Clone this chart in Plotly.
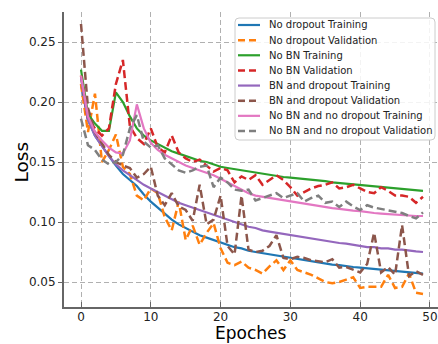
import plotly.graph_objects as go

epochs = list(range(50))

no_dropout_train = [0.215, 0.185, 0.172, 0.163, 0.155, 0.147, 0.140, 0.135, 0.130, 0.123,
                    0.117, 0.112, 0.107, 0.102, 0.098, 0.095, 0.092, 0.089, 0.087, 0.085,
                    0.083, 0.081, 0.079, 0.078, 0.076, 0.075, 0.074, 0.073, 0.072, 0.071,
                    0.070, 0.069, 0.068, 0.067, 0.066, 0.065, 0.0645, 0.064, 0.063, 0.0625,
                    0.062, 0.0615, 0.061, 0.060, 0.0595, 0.059, 0.0585, 0.058, 0.0575, 0.057]

no_dropout_val = [0.215, 0.175, 0.207, 0.150, 0.160, 0.173, 0.146, 0.140, 0.122, 0.118,
                  0.128, 0.124, 0.104, 0.093, 0.117, 0.085, 0.097, 0.081, 0.091, 0.099,
                  0.078, 0.066, 0.064, 0.067, 0.062, 0.060, 0.057, 0.063, 0.068, 0.060,
                  0.068, 0.060, 0.058, 0.056, 0.053, 0.050, 0.049, 0.050, 0.052, 0.054,
                  0.045, 0.046, 0.046, 0.046, 0.056, 0.045, 0.046, 0.057, 0.041, 0.040]

no_bn_train = [0.227, 0.190, 0.182, 0.176, 0.176, 0.208, 0.200, 0.188, 0.178, 0.172,
               0.168, 0.165, 0.162, 0.159, 0.157, 0.155, 0.153, 0.151, 0.150, 0.148,
               0.146, 0.145, 0.144, 0.143, 0.142, 0.141, 0.140, 0.139, 0.138, 0.1375,
               0.137, 0.1365, 0.136, 0.135, 0.1345, 0.134, 0.133, 0.1325, 0.132, 0.1315,
               0.131, 0.1305, 0.130, 0.1295, 0.129, 0.128, 0.1275, 0.127, 0.1265, 0.126]

no_bn_val = [0.222, 0.185, 0.178, 0.172, 0.178, 0.215, 0.235, 0.180, 0.170, 0.165,
             0.178, 0.162, 0.158, 0.172, 0.158, 0.153, 0.150, 0.152, 0.147, 0.142,
             0.145, 0.143, 0.133, 0.138, 0.135, 0.139, 0.131, 0.135, 0.139, 0.135,
             0.129, 0.122, 0.125, 0.128, 0.130, 0.131, 0.133, 0.128, 0.129, 0.131,
             0.128, 0.125, 0.124, 0.129, 0.126, 0.122, 0.122, 0.121, 0.116, 0.121]

bn_dropout_train = [0.220, 0.185, 0.172, 0.163, 0.155, 0.148, 0.143, 0.139, 0.135, 0.131,
                    0.128, 0.125, 0.122, 0.119, 0.116, 0.114, 0.112, 0.110, 0.108, 0.106,
                    0.104, 0.102, 0.100, 0.098, 0.096, 0.095, 0.093, 0.092, 0.091, 0.090,
                    0.089, 0.088, 0.087, 0.086, 0.085, 0.084, 0.083, 0.0825, 0.082, 0.081,
                    0.080, 0.079, 0.079, 0.078, 0.078, 0.077, 0.077, 0.076, 0.0755, 0.075]

bn_dropout_val = [0.265, 0.195, 0.175, 0.165, 0.156, 0.150, 0.147, 0.145, 0.137, 0.140,
                  0.146, 0.122, 0.114, 0.124, 0.113, 0.110, 0.101, 0.131, 0.098, 0.102,
                  0.122, 0.080, 0.073, 0.122, 0.077, 0.075, 0.076, 0.080, 0.089, 0.070,
                  0.069, 0.071, 0.070, 0.068, 0.067, 0.0665, 0.069, 0.062, 0.0625, 0.060,
                  0.058, 0.065, 0.091, 0.058, 0.0625, 0.056, 0.0975, 0.055, 0.059, 0.056]

no_bn_no_dropout_train = [0.222, 0.188, 0.175, 0.168, 0.162, 0.158, 0.157, 0.168, 0.198, 0.178,
                          0.166, 0.160, 0.156, 0.153, 0.150, 0.147, 0.145, 0.143, 0.141, 0.139,
                          0.136, 0.133, 0.130, 0.127, 0.124, 0.122, 0.121, 0.120, 0.119, 0.118,
                          0.117, 0.116, 0.115, 0.114, 0.113, 0.112, 0.1115, 0.111, 0.110, 0.1095,
                          0.109, 0.108, 0.1075, 0.107, 0.1065, 0.106, 0.106, 0.1055, 0.105, 0.105]

no_bn_no_dropout_val = [0.186, 0.164, 0.160, 0.152, 0.148, 0.150, 0.156, 0.178, 0.189, 0.167,
                        0.162, 0.164, 0.153, 0.148, 0.143, 0.141, 0.143, 0.146, 0.147, 0.129,
                        0.137, 0.133, 0.127, 0.126, 0.127, 0.118, 0.120, 0.122, 0.124, 0.120,
                        0.122, 0.124, 0.117, 0.120, 0.122, 0.116, 0.117, 0.1125, 0.117, 0.113,
                        0.110, 0.114, 0.112, 0.111, 0.110, 0.109, 0.1075, 0.105, 0.103, 0.108]

series = [
    ("No dropout Training", no_dropout_train, "#1f77b4", "solid"),
    ("No dropout Validation", no_dropout_val, "#ff7f0e", "dash"),
    ("No BN Training", no_bn_train, "#2ca02c", "solid"),
    ("No BN Validation", no_bn_val, "#d62728", "dash"),
    ("BN and dropout Training", bn_dropout_train, "#9467bd", "solid"),
    ("BN and dropout Validation", bn_dropout_val, "#8c564b", "dash"),
    ("No BN and no dropout Training", no_bn_no_dropout_train, "#e377c2", "solid"),
    ("No BN and no dropout Validation", no_bn_no_dropout_val, "#7f7f7f", "dash"),
]

x_ticks = [0, 10, 20, 30, 40, 50]
y_ticks = [0.05, 0.10, 0.15, 0.20, 0.25]
x_label = "Epoches"
y_label = "Loss"

W, H = 438, 344
ML, MR, MT, MB = 64, 0, 12, 37
PW, PH = W - ML - MR, H - MT - MB


def px_x(p):
    return (p - ML) / PW


def px_y(p):
    return (H - MB - p) / PH


DASH = "8px,4px"

fig = go.Figure()
for name, vals, color, style in series:
    fig.add_trace(go.Scatter(
        x=epochs, y=vals, mode="lines", name=name, showlegend=False,
        line=dict(color=color, width=2.5 if style == "dash" else 2.2,
                  dash=DASH if style == "dash" else "solid"),
    ))

# Matplotlib-style legend box (compact rows)
bx0, bx1, by0, by1 = 235, 435, 18, 140
r = 4
x0, x1, y0, y1 = px_x(bx0), px_x(bx1), px_y(by1), px_y(by0)
rx, ry = r / PW, r / PH
path = (f"M {x0+rx},{y0} L {x1-rx},{y0} Q {x1},{y0} {x1},{y0+ry} "
        f"L {x1},{y1-ry} Q {x1},{y1} {x1-rx},{y1} L {x0+rx},{y1} "
        f"Q {x0},{y1} {x0},{y1-ry} L {x0},{y0+ry} Q {x0},{y0} {x0+rx},{y0} Z")
fig.add_shape(type="path", path=path, xref="paper", yref="paper",
              fillcolor="rgba(255,255,255,0.85)", line=dict(color="#cccccc", width=1),
              layer="above")

row0, step = 25, 15.14
for i, (name, vals, color, style) in enumerate(series):
    yc = px_y(row0 + step * i)
    fig.add_shape(type="line", xref="paper", yref="paper",
                  x0=px_x(238), x1=px_x(260), y0=yc, y1=yc, layer="above",
                  line=dict(color=color, width=2.5 if style == "dash" else 2.2,
                            dash="7px,4px" if style == "dash" else "solid"))
    fig.add_annotation(x=px_x(267), y=yc, xref="paper", yref="paper",
                       text=name, showarrow=False, xanchor="left", yanchor="middle",
                       font=dict(family="DejaVu Sans", size=10, color="#222222"))

# Axis titles
fig.add_annotation(x=px_x(251), y=px_y(344), xref="paper", yref="paper",
                   text=x_label, showarrow=False, xanchor="center", yanchor="bottom",
                   borderpad=0,
                   font=dict(family="DejaVu Sans", size=17, color="black"))
fig.add_annotation(x=px_x(32), y=px_y(162), xref="paper", yref="paper",
                   text=y_label, showarrow=False, xanchor="right", yanchor="middle",
                   textangle=-90, borderpad=0,
                   font=dict(family="DejaVu Sans", size=18.5, color="black"))

axis_common = dict(
    showgrid=True, gridcolor="#b0b0b0", gridwidth=1, griddash="5px,3px",
    showline=True, linecolor="#666666", linewidth=2,
    tickcolor="#666666", tickwidth=1,
    tickfont=dict(family="DejaVu Sans", size=12, color="#222222"),
    zeroline=False, mirror=False, automargin=False,
)

fig.update_layout(
    width=W, height=H,
    margin=dict(l=ML, r=MR, t=MT, b=MB),
    paper_bgcolor="white", plot_bgcolor="white",
    font=dict(family="DejaVu Sans"),
    xaxis=dict(range=[-2.436, 51.15], tickvals=x_ticks,
               ticktext=[str(v) for v in x_ticks],
               ticks="inside", ticklen=5, ticklabelstandoff=-2, **axis_common),
    yaxis=dict(range=[0.02917, 0.275], tickvals=y_ticks,
               ticktext=["%.2f" % v for v in y_ticks],
               ticks="outside", ticklen=4, **axis_common),
    showlegend=False,
)

fig.write_html("out.html")
